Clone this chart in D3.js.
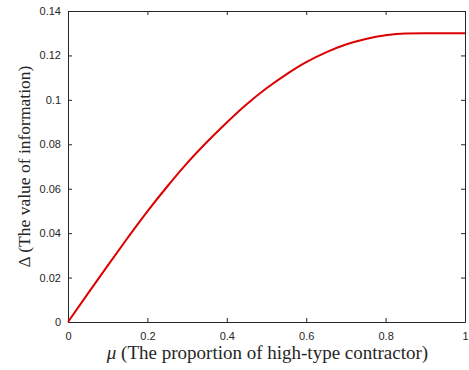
<!DOCTYPE html>
<html>
<head>
<meta charset="utf-8">
<script src="https://cdn.jsdelivr.net/npm/d3@7"></script>
<style>
  body { margin: 0; background: #fff; }
  .tick text { font-family: "Liberation Sans", Arial, sans-serif; font-size: 11px; fill: #262626; }
  .lbl { font-family: "Liberation Serif", "Times New Roman", serif; fill: #262626; }
</style>
</head>
<body>
<div id="chart"></div>
<script>
// proportion of high-type contractor
var mu = [0, 0.05, 0.1, 0.15, 0.2, 0.25, 0.3, 0.35, 0.4, 0.45, 0.5,
          0.55, 0.6, 0.65, 0.7, 0.75, 0.8, 0.85, 0.9, 0.95, 1];
// value of information
var delta = [0, 0.0128, 0.0254, 0.0378, 0.0498, 0.061, 0.0715, 0.081, 0.0898, 0.098, 0.1052,
             0.1115, 0.117, 0.1214, 0.1249, 0.1274, 0.1291, 0.1299, 0.13, 0.13, 0.13];
var xTicks = [0, 0.2, 0.4, 0.6, 0.8, 1];
var yTicks = [0, 0.02, 0.04, 0.06, 0.08, 0.1, 0.12, 0.14];

const margin = { top: 11, right: 4, bottom: 48, left: 68 },
  width = 469 - margin.left - margin.right,
  height = 370 - margin.top - margin.bottom;

var svg = d3
  .select("#chart")
  .append("svg")
  .attr("width", 469)
  .attr("height", 370)
  .append("g")
  .attr("transform", `translate(${margin.left},${margin.top})`);

const x = d3.scaleLinear().domain([0, 1]).range([0, width]);
const y = d3.scaleLinear().domain([0, 0.14]).range([height, 0]);

var fmt = (d) => String(+d.toFixed(2));

// bottom + top axes (ticks inside, MATLAB box)
svg.append("g")
  .attr("transform", `translate(0,${height})`)
  .call(d3.axisBottom(x).tickValues(xTicks).tickFormat(fmt).tickSizeInner(-4).tickSizeOuter(0).tickPadding(10));
svg.append("g")
  .call(d3.axisTop(x).tickValues(xTicks).tickFormat("").tickSizeInner(-4).tickSizeOuter(0));
svg.append("g")
  .call(d3.axisLeft(y).tickValues(yTicks).tickFormat(fmt).tickSizeInner(-4).tickSizeOuter(0).tickPadding(7));
svg.append("g")
  .attr("transform", `translate(${width},0)`)
  .call(d3.axisRight(y).tickValues(yTicks).tickFormat("").tickSizeInner(-4).tickSizeOuter(0));

svg.selectAll(".domain").attr("stroke", "#262626").attr("stroke-width", 1);
svg.selectAll(".tick line").attr("stroke", "#262626");

var line = d3.line()
  .x((d, i) => x(mu[i]))
  .y((d) => y(d))
  .curve(d3.curveMonotoneX);

svg.append("path")
  .datum(delta)
  .attr("fill", "none")
  .attr("stroke", "#dd0000")
  .attr("stroke-width", 2)
  .attr("d", line);

// axis labels
var xl = svg.append("text")
  .attr("class", "lbl")
  .style("font-size", "19px")
  .attr("x", width / 2 + 1)
  .attr("y", height + 37)
  .attr("text-anchor", "middle");
xl.append("tspan").style("font-style", "italic").text("μ");
xl.append("tspan").text(" (The proportion of high-type contractor)");

svg.append("text")
  .attr("class", "lbl")
  .style("font-size", "17.5px")
  .attr("transform", `translate(-38,${height / 2}) rotate(-90)`)
  .attr("text-anchor", "middle")
  .text("Δ (The value of information)");
</script>
</body>
</html>
